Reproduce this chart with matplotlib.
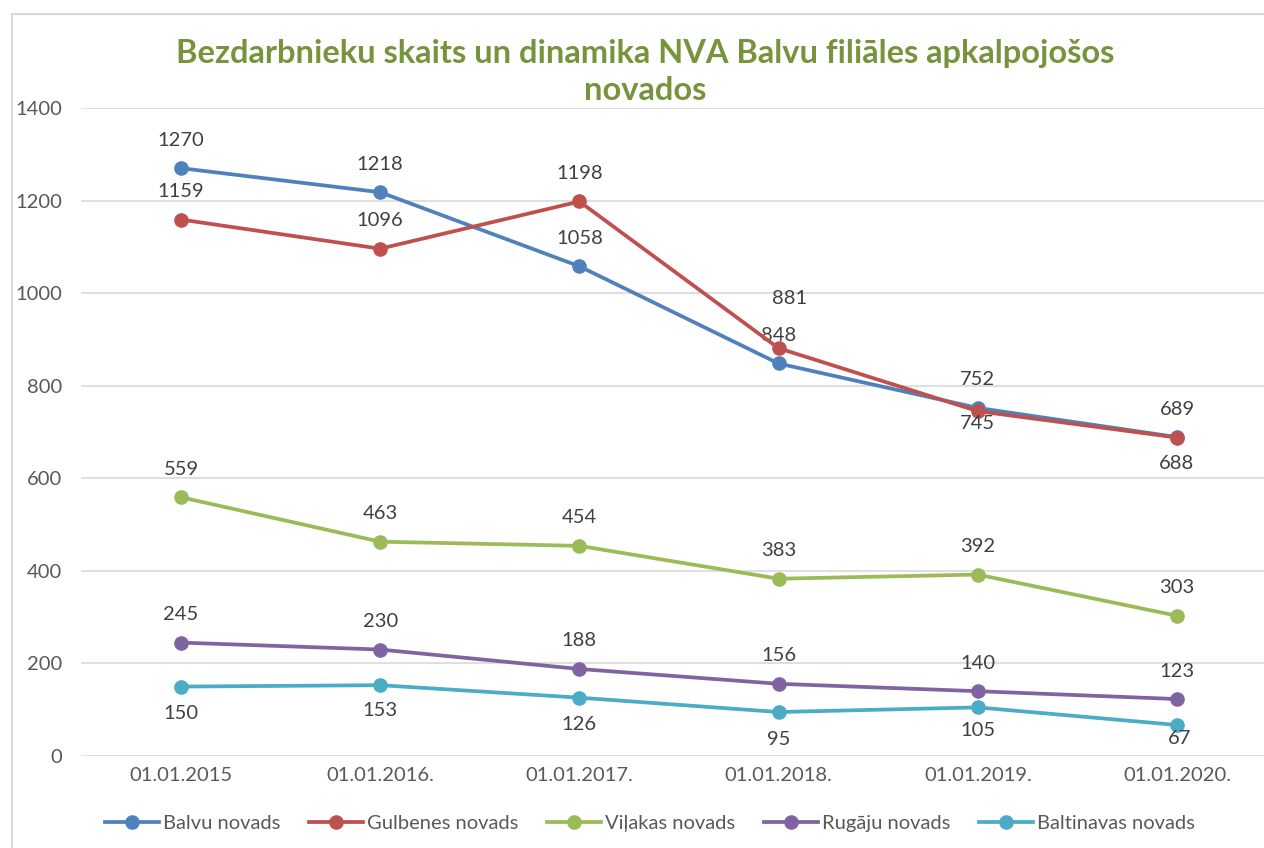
import matplotlib.pyplot as plt
from matplotlib.patches import Rectangle

# -----------------------------
# データ
# -----------------------------
dates = ["01.01.2015", "01.01.2016.", "01.01.2017.", "01.01.2018.", "01.01.2019.", "01.01.2020."]
balvu = [1270, 1218, 1058, 848, 752, 689]
gulbenes = [1159, 1096, 1198, 881, 745, 688]
vilakas = [559, 463, 454, 383, 392, 303]
rugaju = [245, 230, 188, 156, 140, 123]
baltinavas = [150, 153, 126, 95, 105, 67]

series = [
    ("Balvu novads", balvu, "#4F81BD", -28),
    ("Gulbenes novads", gulbenes, "#C0504D", -28),
    ("Viļakas novads", vilakas, "#9BBB59", -28),
    ("Rugāju novads", rugaju, "#8064A2", -28),
    ("Baltinavas novads", baltinavas, "#4BACC6", 27),
]

# manually shifted labels (series, index) -> (dx, dy) in pixels
label_shift = {
    (1, 3): (11, -50),
    (1, 4): (0, 12),
    (1, 5): (0, 26),
    (4, 1): (0, 25),
    (4, 4): (0, 23),
    (4, 5): (3, 14),
}

plt.rcParams["font.family"] = ["Lato", "DejaVu Sans"]
GRAY = "#595959"
FS = 14.5

fig = plt.figure(figsize=(12.64, 8.48), dpi=100)
ax = fig.add_axes([81.4 / 1264, 92 / 848, 1195.2 / 1264, 648 / 848])

x = [i + 0.5 for i in range(len(dates))]
for si, (name, vals, col, dy) in enumerate(series):
    ax.plot(x, vals, color=col, lw=2.7, marker="o", ms=9.5, label=name, zorder=3)
    for i, v in enumerate(vals):
        ddx, ddy = label_shift.get((si, i), (0, dy))
        ax.annotate(str(v), (x[i], v), xytext=(ddx, -ddy), textcoords="offset pixels",
                    ha="center", va="center", fontsize=FS, color="#404040")

ax.set_xlim(0, len(dates))
ax.set_ylim(0, 1400)
ax.set_yticks(range(0, 1401, 200))
ax.set_xticks(x)
ax.set_xticklabels(dates)
ax.grid(axis="y", color="#D9D9D9", lw=1.2)
ax.set_axisbelow(True)
for s in ax.spines.values():
    s.set_visible(False)
ax.tick_params(length=0, colors=GRAY, labelsize=FS)
ax.tick_params(axis="y", pad=14)
ax.tick_params(axis="x", pad=8)

fig.text(645 / 1264, 1 - 72 / 848,
         "Bezdarbnieku skaits un dinamika NVA Balvu filiāles apkalpojošos\nnovados",
         ha="center", va="center", fontsize=23.5, fontweight="bold", color="#77933C",
         linespacing=1.33)

fig.legend(loc="center", bbox_to_anchor=(650 / 1264, 1 - 823 / 848), ncol=5,
           frameon=False, fontsize=FS, labelcolor=GRAY, handlelength=2.7,
           handletextpad=0.2, columnspacing=1.4)

# 枠線
fig.patches.append(Rectangle((12 / 1264, -0.5), 2, 1.5 - 14 / 848, transform=fig.transFigure,
                             fill=False, ec="#D9D9D9", lw=1.5))

fig.savefig("out.png", dpi=100)
